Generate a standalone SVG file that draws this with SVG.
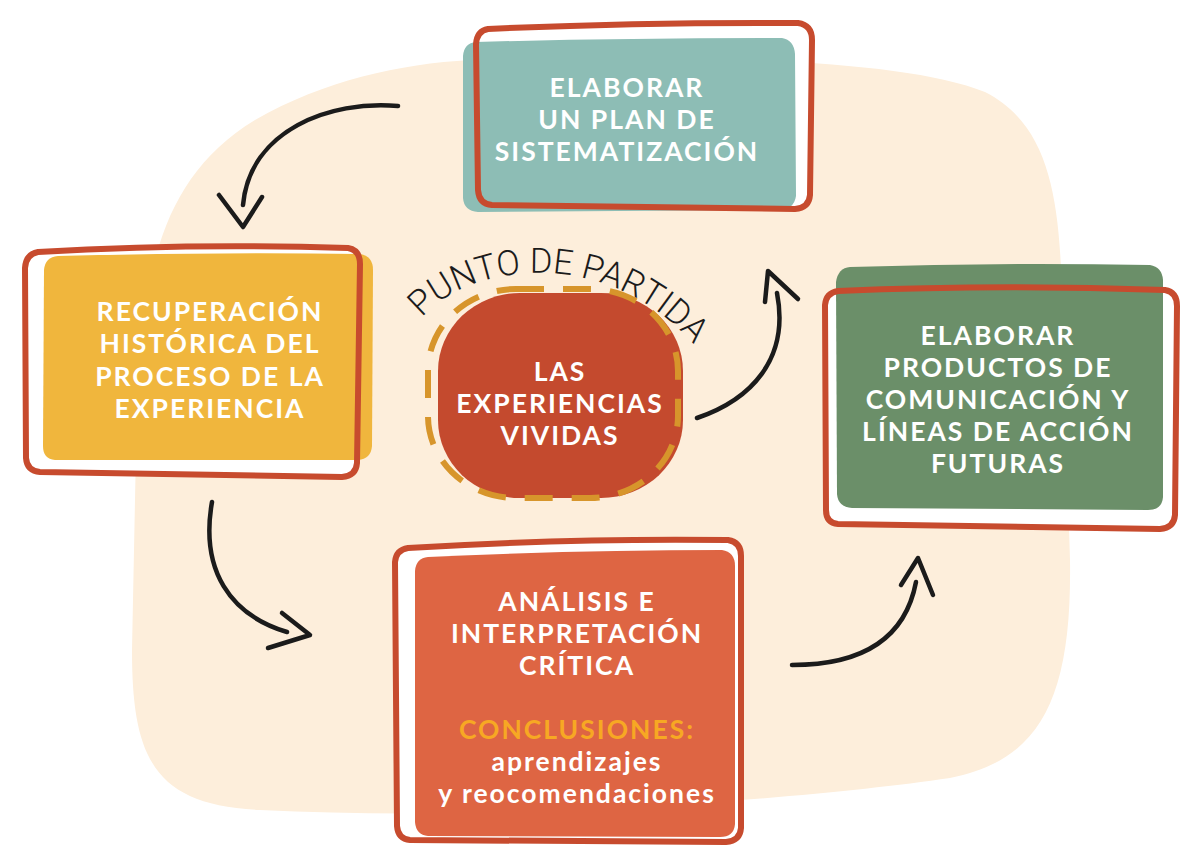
<svg xmlns="http://www.w3.org/2000/svg" width="1200" height="864" viewBox="0 0 1200 864">
<style>
.ol{fill:none;stroke:#c74b2e;stroke-width:6;stroke-linejoin:round}
.wb{fill:#ffffff}
.t{font-family:"Lato","Liberation Sans",sans-serif;font-weight:700;font-size:26.5px;fill:#ffffff;text-anchor:middle;letter-spacing:2px}
.arr{fill:none;stroke:#1b1b1b;stroke-width:4.5;stroke-linecap:round;stroke-linejoin:round}
.hand{font-family:"Roboto","DejaVu Sans",sans-serif;font-weight:300;font-size:35px;fill:#1b1b1b}
</style>
<rect width="1200" height="864" fill="#ffffff"/>
<path id="blob" d="M 470 60 C 700 55 900 58 985 92 C 1050 125 1060 200 1062 300 L 1070 560 C 1072 700 1040 760 950 778 C 800 800 500 822 260 810 C 155 805 132 760 132 650 L 136 450 C 140 300 148 185 255 120 C 325 80 400 64 470 60 Z" fill="#fdeedb"/>

<g id="node-plan">
<path class="wb" d="M 488 29 Q 640 22 798 23 Q 812 25 812 40 L 810 195 Q 809 208 795 209 L 492 205 Q 479 204 478 190 L 476 44 Q 477 31 488 29 Z"/>
<path d="M 476 42 Q 620 38 782 38 Q 794 40 795 54 L 796 196 Q 794 210 778 210 L 478 212 Q 464 211 463 198 L 463 56 Q 464 43 476 42 Z" fill="#8dbdb5"/>
<path class="ol" d="M 488 29 Q 640 22 798 23 Q 812 25 812 40 L 810 195 Q 809 208 795 209 L 492 205 Q 479 204 478 190 L 476 44 Q 477 31 488 29 Z"/>
<text class="t" x="627" y="97">ELABORAR</text>
<text class="t" x="627" y="129">UN PLAN DE</text>
<text class="t" x="627" y="161">SISTEMATIZACIÓN</text>
</g>

<g id="node-recuperacion">
<path class="wb" d="M 38 252 Q 190 243 348 248 Q 360 250 360 264 L 357 463 Q 356 476 342 477 L 40 472 Q 27 471 26 458 L 25 268 Q 26 254 38 252 Z"/>
<path d="M 58 256 Q 210 252 360 254 Q 373 256 373 270 L 372 446 Q 371 459 358 460 L 55 460 Q 43 459 43 446 L 44 270 Q 45 257 58 256 Z" fill="#f0b63d"/>
<path class="ol" d="M 38 252 Q 190 243 348 248 Q 360 250 360 264 L 357 463 Q 356 476 342 477 L 40 472 Q 27 471 26 458 L 25 268 Q 26 254 38 252 Z"/>
<text class="t" x="210" y="321">RECUPERACIÓN</text>
<text class="t" x="210" y="353">HISTÓRICA DEL</text>
<text class="t" x="210" y="386">PROCESO DE LA</text>
<text class="t" x="210" y="418">EXPERIENCIA</text>
</g>

<g id="node-productos">
<path class="wb" d="M 838 291 Q 1000 284 1165 290 Q 1177 292 1177 306 L 1175 515 Q 1174 528 1160 529 L 838 524 Q 826 523 826 510 L 825 305 Q 826 293 838 291 Z"/>
<path d="M 850 267 Q 1000 262 1150 265 Q 1162 267 1163 280 L 1163 497 Q 1162 510 1148 510 L 852 508 Q 838 507 837 494 L 836 282 Q 838 268 850 267 Z" fill="#6b8f69"/>
<path class="ol" d="M 838 291 Q 1000 284 1165 290 Q 1177 292 1177 306 L 1175 515 Q 1174 528 1160 529 L 838 524 Q 826 523 826 510 L 825 305 Q 826 293 838 291 Z"/>
<text class="t" x="998" y="345">ELABORAR</text>
<text class="t" x="998" y="377">PRODUCTOS DE</text>
<text class="t" x="998" y="409">COMUNICACIÓN Y</text>
<text class="t" x="998" y="441">LÍNEAS DE ACCIÓN</text>
<text class="t" x="998" y="473">FUTURAS</text>
</g>

<g id="node-analisis">
<path class="wb" d="M 408 548 Q 570 538 728 540 Q 741 542 741 556 L 741 828 Q 740 841 726 842 L 410 840 Q 398 839 397 826 L 395 562 Q 396 550 408 548 Z"/>
<path d="M 428 557 Q 580 550 722 550 Q 735 552 735 566 L 735 824 Q 734 837 720 837 L 428 836 Q 416 835 415 822 L 415 571 Q 416 558 428 557 Z" fill="#de6543"/>
<path class="ol" d="M 408 548 Q 570 538 728 540 Q 741 542 741 556 L 741 828 Q 740 841 726 842 L 410 840 Q 398 839 397 826 L 395 562 Q 396 550 408 548 Z"/>
<text class="t" x="577" y="611">ANÁLISIS E</text>
<text class="t" x="577" y="643">INTERPRETACIÓN</text>
<text class="t" x="577" y="675">CRÍTICA</text>
<text class="t" x="577" y="739" style="fill:#f7a823">CONCLUSIONES:</text>
<text class="t" x="577" y="771">aprendizajes</text>
<text class="t" x="577" y="803">y reocomendaciones</text>
</g>

<g id="node-experiencias">
<rect x="438" y="293" width="245" height="205" rx="82" ry="78" fill="#c44a2e"/>
<rect x="428" y="289" width="250" height="209" rx="88" ry="82" fill="none" stroke="#d7952b" stroke-width="6" stroke-dasharray="28 19"/>
<text class="t" x="560" y="381">LAS</text>
<text class="t" x="560" y="413">EXPERIENCIAS</text>
<text class="t" x="560" y="445">VIVIDAS</text>
<path id="arcPath" d="M 422 318 C 468 262 622 238 712 368" fill="none"/>
<text class="hand"><textPath href="#arcPath" textLength="305" lengthAdjust="spacingAndGlyphs">PUNTO DE PARTIDA</textPath></text>
</g>

<g id="connectors">
<path class="arr" d="M 398 106 C 330 100 250 130 243 205"/>
<path class="arr" d="M 219 195 L 243 227 L 262 197"/>
<path class="arr" d="M 212 502 C 200 570 230 615 287 632"/>
<path class="arr" d="M 282 613 L 310 635 L 268 648"/>
<path class="arr" d="M 697 418 C 750 400 790 360 777 293"/>
<path class="arr" d="M 765 302 L 768 271 L 798 299"/>
<path class="arr" d="M 792 665 C 860 665 905 640 916 582"/>
<path class="arr" d="M 901 585 L 918 558 L 933 595"/>
</g>
</svg>
